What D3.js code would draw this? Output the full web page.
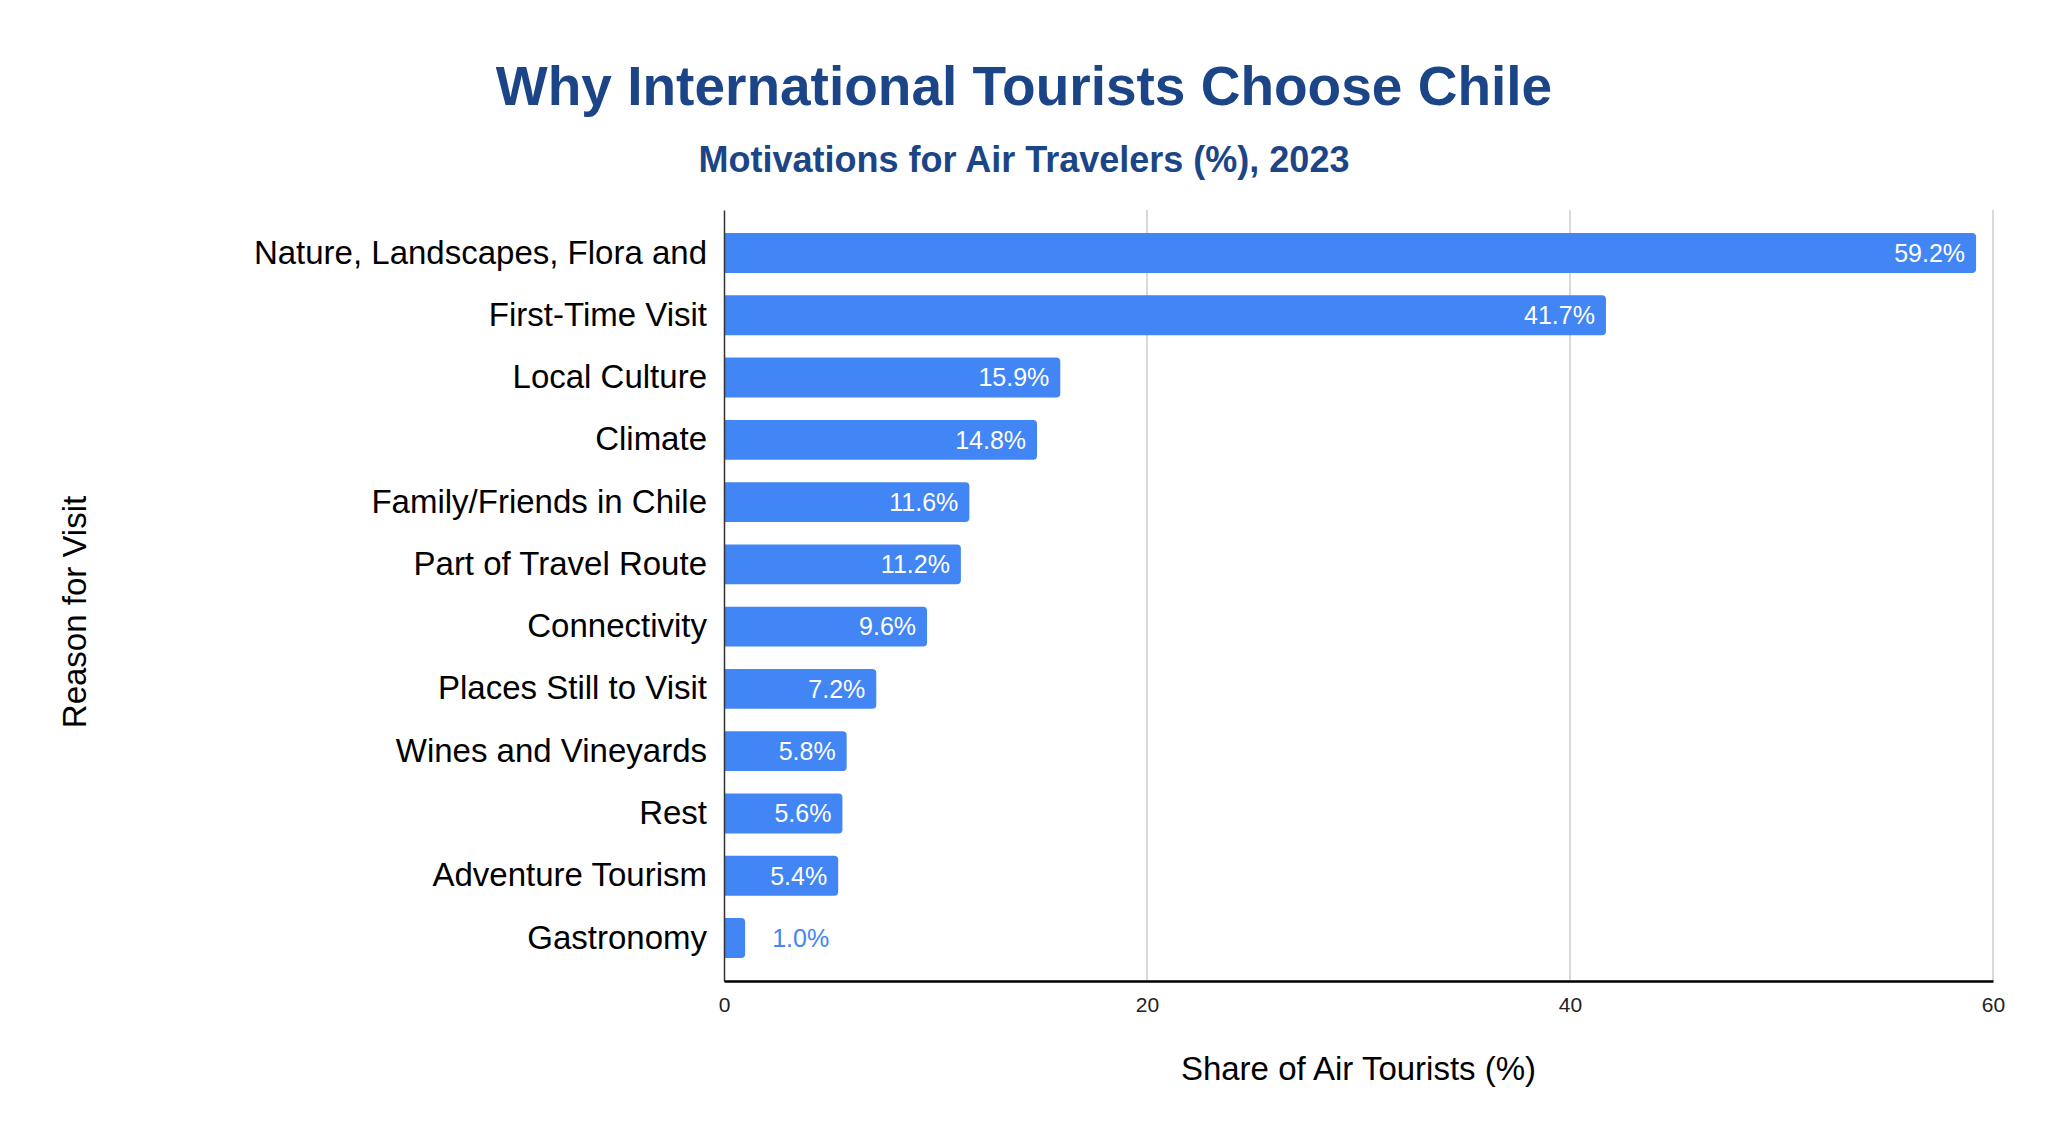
<!DOCTYPE html>
<html>
<head>
<meta charset="utf-8">
<script src="https://cdn.jsdelivr.net/npm/d3@7"></script>
<style>
  body { margin: 0; background: #fff; }
  text { font-family: "Liberation Sans", Arial, sans-serif; }
</style>
</head>
<body>
<div id="chart"></div>
<script>
(function() {
var WIDTH = 2048;
var HEIGHT = 1124;

var categories = [
  'Nature, Landscapes, Flora and', 'First-Time Visit', 'Local Culture', 'Climate',
  'Family/Friends in Chile', 'Part of Travel Route', 'Connectivity',
  'Places Still to Visit', 'Wines and Vineyards', 'Rest', 'Adventure Tourism', 'Gastronomy'
];
var shares = [59.2, 41.7, 15.9, 14.8, 11.6, 11.2, 9.6, 7.2, 5.8, 5.6, 5.4, 1.0];
var xTicks = [0, 20, 40, 60];

var BLUE = '#4285f4';
var NAVY = '#1c4587';

var svg = d3.select('#chart').append('svg')
  .attr('width', WIDTH)
  .attr('height', HEIGHT);

var x = d3.scaleLinear().domain([0, 60]).range([724, 1993]);
var y = d3.scaleBand().domain(categories).range([210, 981])
  .paddingInner(0.36).paddingOuter(0.37);

// gridlines
svg.append('g').selectAll('line')
  .data(xTicks.slice(1))
  .enter().append('line')
  .attr('x1', function(d) { return x(d); })
  .attr('x2', function(d) { return x(d); })
  .attr('y1', 210).attr('y2', 981)
  .attr('stroke', '#cccccc')
  .attr('stroke-width', 1.5);

// bars, rounded at the right end only
function barPath(d, i) {
  var x0 = x(0), x1 = x(d), y0 = y(categories[i]), h = y.bandwidth();
  var r = Math.min(4, x1 - x0);
  var p = d3.path();
  p.moveTo(x0, y0);
  p.lineTo(x1 - r, y0);
  p.quadraticCurveTo(x1, y0, x1, y0 + r);
  p.lineTo(x1, y0 + h - r);
  p.quadraticCurveTo(x1, y0 + h, x1 - r, y0 + h);
  p.lineTo(x0, y0 + h);
  p.closePath();
  return p.toString();
}

svg.append('g').selectAll('path')
  .data(shares)
  .enter().append('path')
  .attr('d', barPath)
  .attr('fill', BLUE);

// value labels
svg.append('g').selectAll('text')
  .data(shares)
  .enter().append('text')
  .attr('x', function(d) { return d < 3 ? x(d) + 27 : x(d) - 11; })
  .attr('y', function(d, i) { return y(categories[i]) + y.bandwidth() / 2; })
  .attr('dy', '0.35em')
  .attr('text-anchor', function(d) { return d < 3 ? 'start' : 'end'; })
  .attr('fill', function(d) { return d < 3 ? BLUE : '#ffffff'; })
  .style('font-size', '25px')
  .text(function(d) { return d.toFixed(1) + '%'; });

// y axis
var yAxis = svg.append('g')
  .attr('transform', 'translate(' + x(0) + ',0)')
  .call(d3.axisLeft(y).tickSize(0).tickPadding(17));
yAxis.select('.domain').attr('stroke', '#333333').attr('stroke-width', 1.5);
yAxis.selectAll('text')
  .attr('fill', '#000000')
  .style('font-size', '33px')
  .style('font-family', '"Liberation Sans", Arial, sans-serif');

// x axis
var xAxis = svg.append('g')
  .attr('transform', 'translate(0,981)')
  .call(d3.axisBottom(x).tickValues(xTicks).tickSize(0).tickPadding(16));
xAxis.select('.domain').attr('stroke', '#000000').attr('stroke-width', 2.5);
xAxis.selectAll('text')
  .attr('fill', '#222222')
  .style('font-size', '21px')
  .style('font-family', '"Liberation Sans", Arial, sans-serif');

// titles
svg.append('text')
  .attr('x', 1024).attr('y', 105)
  .attr('text-anchor', 'middle')
  .attr('fill', NAVY)
  .style('font-size', '55px').style('font-weight', 'bold')
  .text('Why International Tourists Choose Chile');

svg.append('text')
  .attr('x', 1024).attr('y', 172)
  .attr('text-anchor', 'middle')
  .attr('fill', NAVY)
  .style('font-size', '36px').style('font-weight', 'bold')
  .text('Motivations for Air Travelers (%), 2023');

svg.append('text')
  .attr('x', (x(0) + x(60)) / 2).attr('y', 1080)
  .attr('text-anchor', 'middle')
  .attr('fill', '#000000')
  .style('font-size', '33px')
  .text('Share of Air Tourists (%)');

svg.append('text')
  .attr('transform', 'translate(86,612) rotate(-90)')
  .attr('text-anchor', 'middle')
  .attr('fill', '#000000')
  .style('font-size', '33px')
  .text('Reason for Visit');
})();
</script>
</body>
</html>
